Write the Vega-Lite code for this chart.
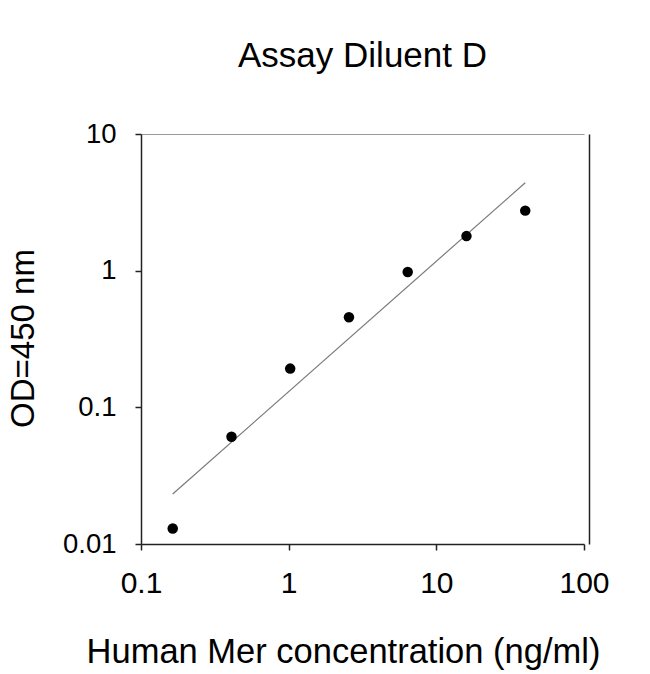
{
  "$schema": "https://vega.github.io/schema/vega-lite/v6.json",
  "autosize": {"type": "none"},
  "padding": {"left": 141, "top": 134, "right": 66, "bottom": 130},
  "width": 443,
  "height": 410,
  "background": "white",
  "config": {
    "view": {"stroke": null},
    "font": "Liberation Sans",
    "axis": {"grid": false}
  },
  "title": {
    "text": "Assay Diluent D",
    "font": "Liberation Sans",
    "fontSize": 35,
    "fontWeight": "normal",
    "color": "#000",
    "anchor": "middle",
    "frame": "group",
    "baseline": "alphabetic",
    "offset": 18
  },
  "datasets": {
    "points": [
      {"conc": 0.164, "od": 0.013},
      {"conc": 0.41, "od": 0.061},
      {"conc": 1.024, "od": 0.192},
      {"conc": 2.56, "od": 0.456},
      {"conc": 6.4, "od": 0.978},
      {"conc": 16, "od": 1.79},
      {"conc": 40, "od": 2.75}
    ],
    "fit": [
      {"conc": 0.164, "od": 0.0232},
      {"conc": 40, "od": 4.4}
    ]
  },
  "layer": [
    {
      "data": {"name": "fit"},
      "mark": {"type": "line", "color": "#7a7a7a", "strokeWidth": 1.2, "clip": false},
      "encoding": {
        "x": {
          "field": "conc", "type": "quantitative",
          "scale": {"type": "log", "domain": [0.1, 100], "nice": false},
          "axis": {
            "orient": "bottom",
            "values": [0.1, 1, 10, 100],
            "format": "~g",
            "domainColor": "#222",
            "domainWidth": 1.5,
            "tickColor": "#222",
            "tickWidth": 1.5,
            "tickSize": 6,
            "labelFont": "Liberation Sans",
            "labelFontSize": 30,
            "labelColor": "#000",
            "labelPadding": 18,
            "labelFlush": false,
            "labelOverlap": false,
            "title": "Human Mer concentration (ng/ml)",
            "titleFont": "Liberation Sans",
            "titleFontSize": 34.5,
            "titleFontWeight": "normal",
            "titleColor": "#000",
            "titleBaseline": "alphabetic",
            "titleAnchor": "middle",
            "titleX": 202,
            "titleY": 118
          }
        },
        "y": {
          "field": "od", "type": "quantitative",
          "scale": {"type": "log", "domain": [0.01, 10], "nice": false},
          "axis": {
            "orient": "left",
            "values": [0.01, 0.1, 1, 10],
            "format": "~g",
            "domainColor": "#222",
            "domainWidth": 1.5,
            "tickColor": "#222",
            "tickWidth": 1.5,
            "tickSize": 6,
            "labelFont": "Liberation Sans",
            "labelFontSize": 27.5,
            "labelColor": "#000",
            "labelPadding": 19,
            "labelFlush": false,
            "labelOverlap": false,
            "title": "OD=450 nm",
            "titleFont": "Liberation Sans",
            "titleFontSize": 33,
            "titleFontWeight": "normal",
            "titleColor": "#000",
            "titleAngle": -90,
            "titleBaseline": "alphabetic",
            "titleAnchor": "middle",
            "titleX": -108,
            "titleY": 204
          }
        }
      }
    },
    {
      "data": {"name": "points"},
      "mark": {"type": "point", "filled": true, "shape": "circle", "color": "#000", "size": 110, "opacity": 1},
      "encoding": {
        "x": {
          "field": "conc", "type": "quantitative",
          "axis": {
            "orient": "top",
            "ticks": false,
            "labels": false,
            "title": null,
            "domainColor": "#999",
            "domainWidth": 1.2
          }
        },
        "y": {
          "field": "od", "type": "quantitative",
          "axis": {
            "orient": "right",
            "offset": 5,
            "ticks": false,
            "labels": false,
            "title": null,
            "domainColor": "#222",
            "domainWidth": 1.5
          }
        }
      }
    }
  ]
}
